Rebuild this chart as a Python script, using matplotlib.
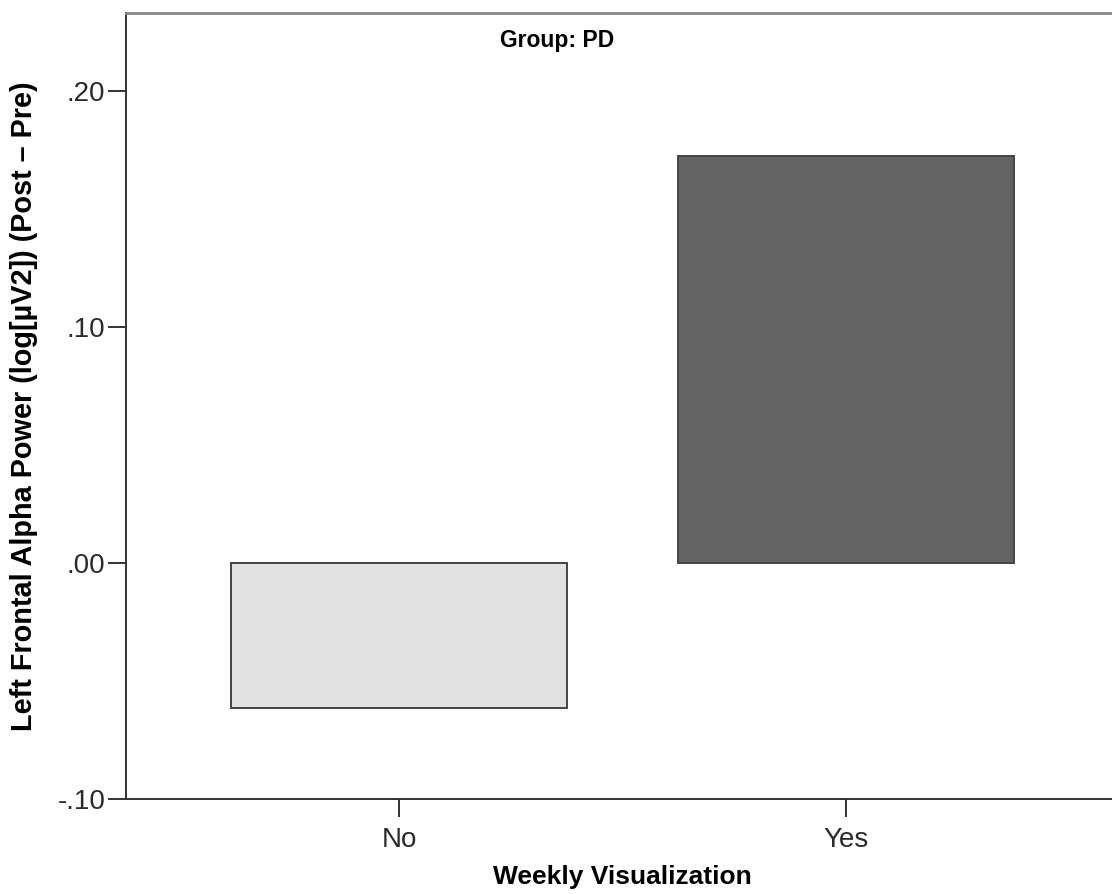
import matplotlib
matplotlib.use("Agg")
import matplotlib.pyplot as plt
from matplotlib.ticker import FuncFormatter

categories = ["No", "Yes"]
values = [-0.0614, 0.1723]
colors = ["#e1e1e1", "#636363"]
yticks = [-0.10, 0.00, 0.10, 0.20]

plt.rcParams['font.family'] = ['Liberation Sans', 'DejaVu Sans']

W, H = 1112, 894
fig = plt.figure(figsize=(W/100, H/100), dpi=100)
ax = fig.add_axes([126/W, 1-799/H, 1-126/W + 0.01, (799-12.5)/H])

x = list(range(len(categories)))
ax.bar(x, values, width=0.752, color=colors, edgecolor="#444444", linewidth=1.4, zorder=2)

ax.set_xlim(-0.611, 1.62)
ax.set_ylim(-0.10, 0.2331)
ax.set_xticks(x)
ax.set_xticklabels(categories)
ax.set_yticks(yticks)

def fmt(v, pos):
    s = f"{v:.2f}"
    if s.startswith("0"):
        s = s[1:]
    elif s.startswith("-0"):
        s = "-" + s[2:]
    return s
ax.yaxis.set_major_formatter(FuncFormatter(fmt))

ax.tick_params(axis='both', length=13, width=1.4, color="#333333", labelsize=20, labelcolor="#2a2a2a")
ax.tick_params(axis='x', pad=7)
ax.tick_params(axis='y', pad=2)
for side in ["left", "bottom"]:
    ax.spines[side].set_color("#333333")
    ax.spines[side].set_linewidth(1.4)
ax.spines["top"].set_color("#888888")
ax.spines["top"].set_linewidth(2)
ax.spines["right"].set_visible(False)

fig.text(622/W, 1-877/H, "Weekly Visualization", ha="center", va="center", fontsize=19, fontweight="bold")
fig.text(24/W, 1-406/H, "Left Frontal Alpha Power (log[\u00b5V2]) (Post \u2013 Pre)", ha="center", va="center",
         rotation=90, fontsize=20.8, fontweight="bold")
fig.text(557/W, 1-40/H, "Group: PD", ha="center", va="center", fontsize=16.5, fontweight="bold")

fig.savefig("out.png", dpi=100)
